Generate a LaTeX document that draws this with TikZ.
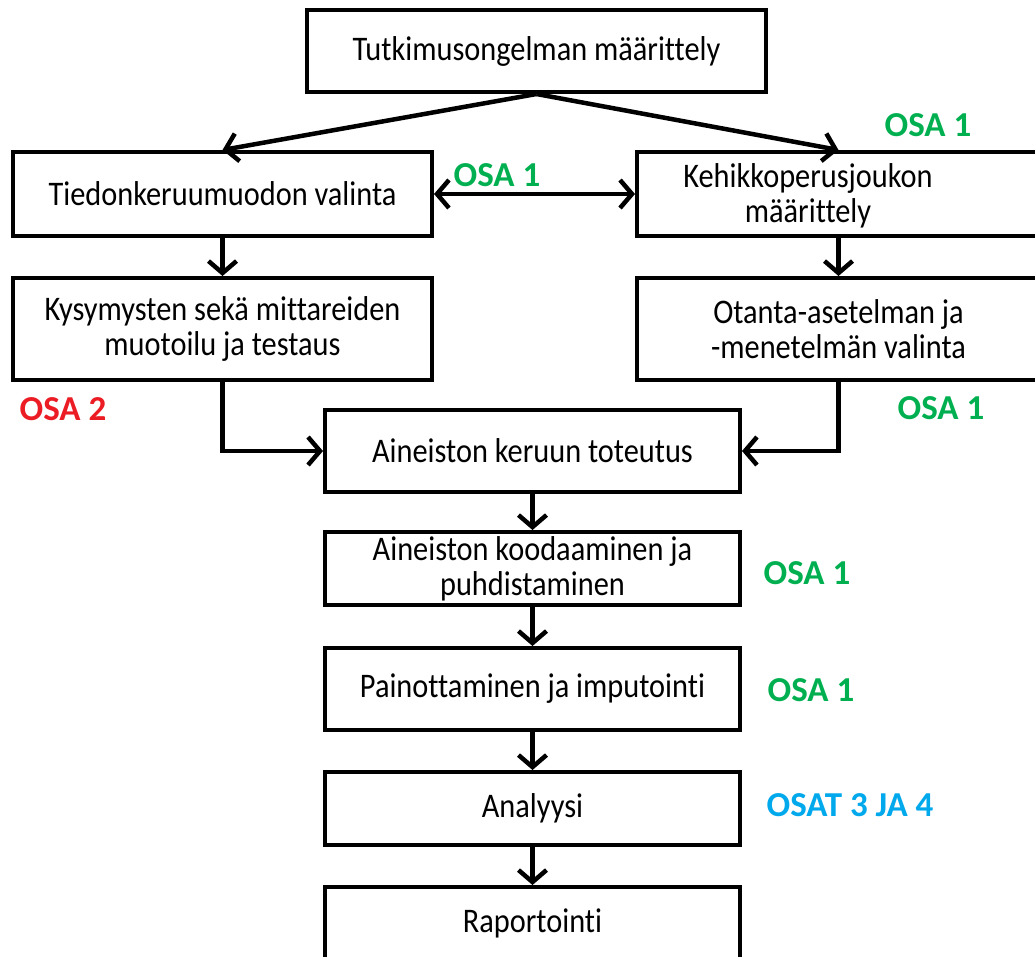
\documentclass[tikz,border=0pt]{standalone}
\usepackage{fontspec}
\setmainfont{Carlito}[Ligatures=NoCommon]
\newfontfamily\boxfont{Carlito}[FakeStretch=0.88,Ligatures=NoCommon]
\usetikzlibrary{arrows.meta}
\definecolor{osagreen}{RGB}{0,176,80}
\definecolor{osared}{RGB}{235,28,36}
\definecolor{osablue}{RGB}{0,168,236}
\tikzset{
  box/.style={draw=black, line width=4pt, inner sep=0pt, align=center,
    font=\boxfont\fontsize{34.5}{35}\selectfont},
  txt/.style={inner sep=0pt, align=center, font=\boxfont\fontsize{34.5}{35}\selectfont},
  arr/.style={line width=4.5pt, -{Straight Barb[length=12pt,width=28pt]}},
  darr/.style={line width=4.5pt, {Straight Barb[length=12pt,width=28pt]}-{Straight Barb[length=12pt,width=28pt]}},
  osa/.style={inner sep=0pt, font=\fontsize{35}{40}\selectfont\bfseries}
}
\begin{document}
\begin{tikzpicture}[x=1pt,y=-1pt]
\useasboundingbox[fill=white] (0,0) rectangle (1035,956);
\node[box, minimum width=459pt, minimum height=82pt] (top) at (536.5,51) {Tutkimusongelman määrittely};
\node[box, minimum width=419pt, minimum height=84pt] (tied) at (222.5,194) {Tiedonkeruumuodon valinta};
\node[box, minimum width=403pt, minimum height=84pt] (keh) at (838.5,194) {};
\node[txt] (kehtxt) at (808,196) {Kehikkoperusjoukon\\määrittely};
\node[box, minimum width=419pt, minimum height=102pt] (kys) at (222.5,329) {Kysymysten sekä mittareiden\\muotoilu ja testaus};
\node[box, minimum width=403pt, minimum height=102pt] (ota) at (838.5,329) {Otanta-asetelman ja\\-menetelmän valinta};
\node[box, minimum width=415pt, minimum height=82pt] (ker) at (532.5,451) {Aineiston keruun toteutus};
\node[box, minimum width=415pt, minimum height=73pt] (koo) at (532.5,568.5) {Aineiston koodaaminen ja\\puhdistaminen};
\node[box, minimum width=415pt, minimum height=82pt] (pai) at (532.5,689) {Painottaminen ja imputointi};
\node[box, minimum width=415pt, minimum height=73pt] (ana) at (532.5,808.5) {Analyysi};
\node[box, minimum width=415pt, minimum height=73pt] (rap) at (532.5,923.5) {Raportointi};

\draw[arr] (top.south) -- (tied.north);
\draw[arr] (top.south) -- (keh.north);
\draw[darr] (tied.east) -- (keh.west);
\draw[arr] (tied.south) -- (kys.north);
\draw[arr] (keh.south) -- (ota.north);
\draw[arr] (kys.south) |- (ker.west);
\draw[arr] (ota.south) |- (ker.east);
\draw[arr] (ker.south) -- (koo.north);
\draw[arr] (koo.south) -- (pai.north);
\draw[arr] (pai.south) -- (ana.north);
\draw[arr] (ana.south) -- (rap.north);

\node[osa, text=osagreen] (l1) at (928,125) {OSA 1};
\node[osa, text=osagreen] (l2) at (497,175) {OSA 1};
\node[osa, text=osared] (l3) at (63,409) {OSA 2};
\node[osa, text=osagreen] (l4) at (941,408) {OSA 1};
\node[osa, text=osagreen] (l5) at (807,573) {OSA 1};
\node[osa, text=osagreen] (l6) at (811,690) {OSA 1};
\node[osa, text=osablue] (l7) at (850,805) {OSAT 3 JA 4};
\end{tikzpicture}
\end{document}
